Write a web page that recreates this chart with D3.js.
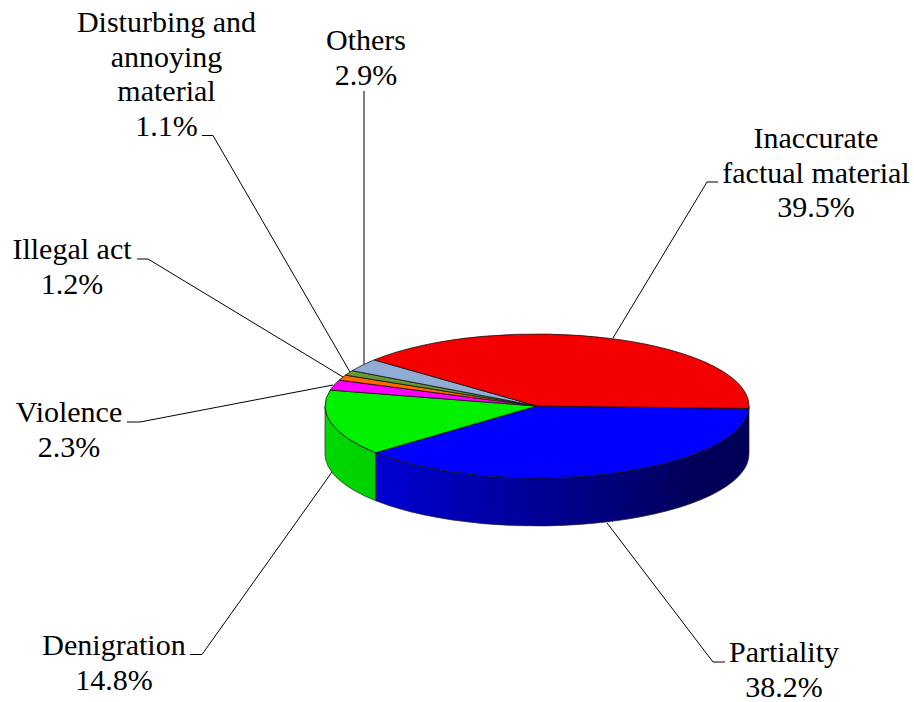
<!DOCTYPE html>
<html><head><meta charset="utf-8">
<script src="https://cdn.jsdelivr.net/npm/d3@7"></script>
<style>html,body{margin:0;background:#fff}svg{display:block}text{font-family:"Liberation Serif","Times New Roman",serif;font-size:30px;fill:#000}</style>
</head><body><svg id="c" width="914" height="702"></svg>
<script>
const categories=["Partiality","Denigration","Violence","Illegal act","Disturbing and annoying material","Others","Inaccurate factual material"];
const values=[38.2,14.8,2.3,1.2,1.1,2.9,39.5];
const topColors=["#0000ff","#00f000","#ff00ff","#ff6600","#669933","#8fadd4","#f50000"];
const labelLines=[["Partiality","38.2%"],["Denigration","14.8%"],["Violence","2.3%"],["Illegal act","1.2%"],["Disturbing and","annoying","material","1.1%"],["Others","2.9%"],["Inaccurate","factual material","39.5%"]];
const layout={cx:537,cy:406,rx:212,ry:72,depth:48,start:2,lineH:34.6};
const labelPos=[[784,662],[114,655],[69,422],[72,259],[166.5,32],[366,50],[816,148]];
const leaders=[[[607,523],[713,662],[725,662]],[[332,472],[202,654.5],[190,654.5]],[[333,385],[140,422],[127,422]],[[343,377],[148,259],[137,259]],[[350,372],[213,135.5],[202,135.5]],[[364,364],[364,91]],[[613,338],[707,182],[718,182]]];
const svg=d3.select("#c");
const defs=svg.append("defs");
const pie=d3.pie().sort(null).value(d=>d).startAngle(0).endAngle(2*Math.PI);
const rot=d3.scaleLinear().domain([0,360]).range([0,2*Math.PI]);
const st=rot(layout.start);
const arcs=pie(values).map(a=>({...a,a0:a.startAngle+st,a1:a.endAngle+st}));
const px=t=>layout.cx+layout.rx*Math.cos(t), py=t=>layout.cy+layout.ry*Math.sin(t);
function side(a0,a1){
  const s=Math.max(a0,0),e=Math.min(a1,Math.PI);
  if(e<=s)return null;
  const d=layout.depth,{rx,ry}=layout;
  return `M${px(s)},${py(s)}A${rx},${ry} 0 0 1 ${px(e)},${py(e)}L${px(e)},${py(e)+d}A${rx},${ry} 0 0 0 ${px(s)},${py(s)+d}Z`;
}
// the wall of the first slice also has to cover the 0..start gap at the right edge
const grad=(id,x1,x2,c1,c2)=>{const g=defs.append("linearGradient").attr("id",id).attr("gradientUnits","userSpaceOnUse").attr("x1",x1).attr("x2",x2).attr("y1",0).attr("y2",0);
  g.append("stop").attr("offset",0).attr("stop-color",c1);g.append("stop").attr("offset",1).attr("stop-color",c2);};
grad("gBlue",375,700,"#0000d4","#000058");
grad("gGreen",325,375,"#00d800","#00d000");
const sideFill={0:"url(#gBlue)",1:"url(#gGreen)"};
svg.append("g").selectAll("path").data(leaders).join("path")
 .attr("d",d3.line()).attr("fill","none").attr("stroke","#000").attr("stroke-width",1);
const walls=arcs.map((a,i)=>({d:side(i===0?0:a.a0,a.a1),i})).filter(o=>o.d);
svg.append("g").selectAll("path").data(walls).join("path")
 .attr("d",o=>o.d).attr("fill",o=>sideFill[o.i]||topColors[o.i]).attr("stroke","#222").attr("stroke-width",.7);
svg.append("g").selectAll("path").data(arcs).join("path")
 .attr("d",a=>{const {rx,ry,cx,cy}=layout;const big=(a.a1-a.a0)>Math.PI?1:0;
   return `M${cx},${cy}L${px(a.a0)},${py(a.a0)}A${rx},${ry} 0 ${big} 1 ${px(a.a1)},${py(a.a1)}Z`;})
 .attr("fill",(a,i)=>topColors[i]).attr("stroke","#111").attr("stroke-width",.8).attr("stroke-linejoin","round");
const lab=svg.append("g").selectAll("text").data(labelLines).join("text")
 .attr("text-anchor","middle").attr("transform",(d,i)=>`translate(${labelPos[i][0]},${labelPos[i][1]})`);
lab.selectAll("tspan").data(d=>d).join("tspan").attr("x",0).attr("y",(d,i)=>i*layout.lineH).text(d=>d);
</script></body></html>
